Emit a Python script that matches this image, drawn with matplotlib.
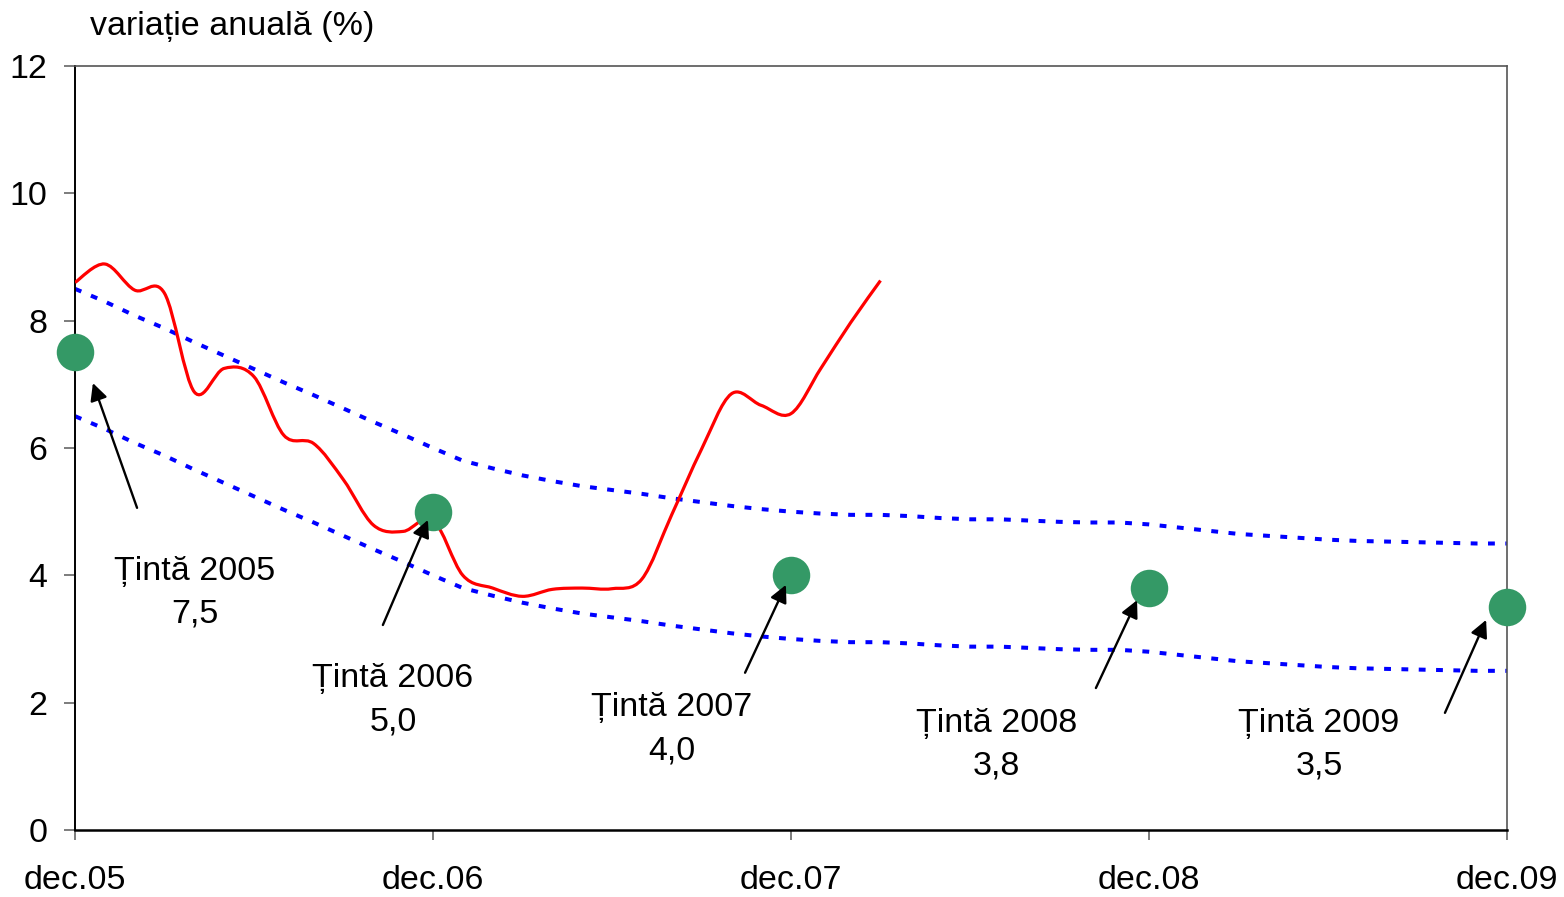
import numpy as np
import matplotlib
matplotlib.use("Agg")
import matplotlib.pyplot as plt
from matplotlib.path import Path
from matplotlib.patches import PathPatch

plt.rcParams['font.family'] = ['Liberation Sans', 'DejaVu Sans']

# ---- data ----
tick_labels = ["dec.05", "dec.06", "dec.07", "dec.08", "dec.09"]
tick_months = [0, 12, 24, 36, 48]

# annual CPI inflation, monthly dec.05 .. mar.08
inflation = [8.60, 8.89, 8.48, 8.43, 6.88, 7.25, 7.12, 6.20, 6.07, 5.50, 4.79, 4.69, 4.87,
             4.00, 3.80, 3.67, 3.78, 3.80, 3.79, 3.94, 4.95, 5.98, 6.85, 6.67, 6.54,
             7.25, 7.97, 8.63]

# upper / lower limit of the variation band, monthly dec.05 .. dec.09
band_upper = [8.50, 8.30, 8.08, 7.88, 7.66, 7.45, 7.24, 7.03, 6.83, 6.62, 6.41, 6.21, 6.00,
              5.80, 5.68, 5.57, 5.48, 5.40, 5.34, 5.28, 5.21, 5.15, 5.09, 5.04, 5.00,
              4.97, 4.95, 4.95, 4.93, 4.90, 4.88, 4.88, 4.86, 4.84, 4.83, 4.83, 4.80,
              4.75, 4.70, 4.65, 4.62, 4.59, 4.56, 4.54, 4.53, 4.52, 4.51, 4.50, 4.50]
band_lower = [6.50, 6.30, 6.08, 5.88, 5.66, 5.45, 5.24, 5.03, 4.83, 4.62, 4.41, 4.21, 4.00,
              3.80, 3.68, 3.57, 3.48, 3.40, 3.34, 3.28, 3.21, 3.15, 3.09, 3.04, 3.00,
              2.97, 2.95, 2.95, 2.93, 2.90, 2.88, 2.88, 2.86, 2.84, 2.83, 2.83, 2.80,
              2.75, 2.70, 2.65, 2.62, 2.59, 2.56, 2.54, 2.53, 2.52, 2.51, 2.50, 2.50]

target_years = ["2005", "2006", "2007", "2008", "2009"]
target_values = [7.5, 5.0, 4.0, 3.8, 3.5]
target_labels = ["7,5", "5,0", "4,0", "3,8", "3,5"]

# ---- figure ----
fig = plt.figure(figsize=(15.64, 8.97), dpi=100)
ax = fig.add_axes([75/1564, 1-830/897, (1507-75)/1564, (830-66)/897])

FS = 24.5


def smooth_path(xs, ys):
    """Excel-like smoothed line (Catmull-Rom as cubic Bezier)."""
    pts = np.column_stack([xs, ys]).astype(float)
    n = len(pts)
    verts = [pts[0]]
    codes = [Path.MOVETO]
    for i in range(n - 1):
        p0 = pts[i - 1] if i > 0 else pts[i]
        p1 = pts[i]
        p2 = pts[i + 1]
        p3 = pts[i + 2] if i + 2 < n else pts[i + 1]
        c1 = p1 + (p2 - p0) / 6.0
        c2 = p2 - (p3 - p1) / 6.0
        verts += [c1, c2, p2]
        codes += [Path.CURVE4] * 3
    return Path(verts, codes)


xb = np.arange(len(band_upper))
dot_style = dict(color='#0000ff', lw=2.9, linestyle=(0, (1.7, 2.6)),
                 dash_capstyle='butt', zorder=2)
ax.plot(xb, band_upper, **dot_style)
ax.plot(xb, band_lower, **dot_style)

xi = np.arange(len(inflation))
ax.add_patch(PathPatch(smooth_path(xi, inflation), fill=False,
                       edgecolor='#ff0000', lw=2.3, zorder=3))

ax.scatter(tick_months, target_values, s=27**2, color='#349966',
           zorder=5, clip_on=False, linewidths=0)

# annotations: (text center), (arrow tail), (arrow head) in data units
text_pos = [(4.02, 3.73), (10.66, 2.04), (20.01, 1.58), (30.9, 1.34), (41.7, 1.34)]
tail_pos = [(2.08, 5.06), (10.32, 3.22), (22.46, 2.47), (34.22, 2.23), (45.92, 1.84)]
head_pos = [(0.60, 7.02), (11.83, 4.87), (23.83, 3.85), (35.60, 3.61), (47.30, 3.30)]
for yr, lab, tp, tl, hd in zip(target_years, target_labels, text_pos, tail_pos, head_pos):
    ax.text(tp[0], tp[1], f"Țintă {yr}\n{lab}", ha='center', va='center',
            fontsize=FS, linespacing=1.5, zorder=6)
    ax.annotate("", xy=hd, xytext=tl,
                arrowprops=dict(arrowstyle='-|>', color='black', lw=1.7,
                                mutation_scale=26, shrinkA=0, shrinkB=0),
                zorder=6, annotation_clip=False)

ax.set_xlim(0, 48)
ax.set_ylim(0, 12)
ax.set_yticks(np.arange(0, 13, 2))
ax.set_yticklabels([str(v) for v in range(0, 13, 2)], fontsize=FS)
ax.set_xticks(tick_months)
ax.set_xticklabels(tick_labels, fontsize=FS)
ax.tick_params(axis='y', direction='out', length=8, width=1.2, color='#666666', pad=12)
ax.tick_params(axis='x', direction='out', length=7.5, width=1.2, color='#666666', pad=18)

ax.spines['left'].set_color('black')
ax.spines['left'].set_linewidth(1.4)
ax.spines['bottom'].set_color('black')
ax.spines['bottom'].set_linewidth(1.8)
for s in ['top', 'right']:
    ax.spines[s].set_color('#555555')
    ax.spines[s].set_linewidth(1.2)

fig.text(90/1564, 1-27/897, "variație anuală (%)", fontsize=FS, ha='left', va='center')

fig.savefig("out.png", dpi=100)
